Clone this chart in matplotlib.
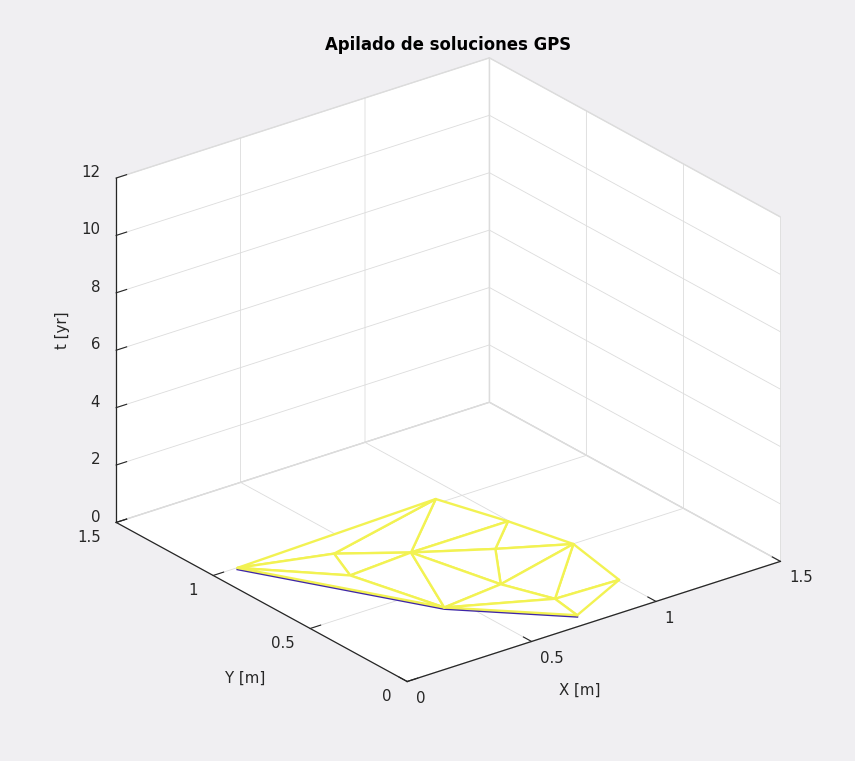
import numpy as np
import matplotlib.pyplot as plt

# ---------------- SETTINGS ----------------
BG = '#f0eff2'
GRID = '#dcdcdc'
AXC = '#262626'
YELLOW = '#f2f252'
BLUE = '#3e26a8'
FS = 10.8

plt.rcParams['font.family'] = 'DejaVu Sans'
plt.rcParams['font.size'] = FS
plt.rcParams['grid.color'] = GRID
plt.rcParams['grid.linewidth'] = 0.6
plt.rcParams['axes.edgecolor'] = AXC
plt.rcParams['axes.linewidth'] = 0.9

# ---------------- DATA ----------------
# station positions (m)
px = [0.09, 0.91, 0.40, 0.34, 0.60, 0.43, 0.99, 0.83, 1.05, 0.68, 0.75, 1.00, 0.73]
py = [0.99, 1.02, 0.89, 0.73, 0.75, 0.36, 0.75, 0.61, 0.49, 0.39, 0.20, 0.19, 0.06]
pt = [0.05] * len(px)  # epoch of the stacked solution (yr)

tri = [[0, 1, 2], [0, 2, 3], [0, 3, 5], [2, 1, 4], [2, 4, 3], [3, 4, 5],
       [4, 1, 6], [4, 6, 7], [4, 7, 9], [4, 9, 5], [7, 6, 8], [7, 8, 9],
       [9, 8, 10], [8, 11, 10], [10, 11, 12], [9, 10, 5], [5, 10, 12]]

# lower border of the network
border = [0, 5, 12]
border_t = [0.0, 0.0, 0.0]

xyticks = [0, 0.5, 1, 1.5]
xyticklabels = ['0', '0.5', '1', '1.5']
zticks = [0, 2, 4, 6, 8, 10, 12]
# ------------------------------------------

fig = plt.figure(figsize=(8.55, 7.61), dpi=100, facecolor=BG)
ax = fig.add_axes([0.021, 0.0094, 0.983, 0.983], projection='3d')
ax.set_facecolor(BG)
ax.set_proj_type('ortho')
ax.view_init(elev=24.8, azim=-127.5)
ax.set_box_aspect((1.24, 1.26, 1))
ax.computed_zorder = False

ax.plot([px[i] for i in border], [py[i] for i in border], border_t,
        color=BLUE, lw=1.5, zorder=2)
ax.plot_trisurf(px, py, pt, triangles=tri, color='white', edgecolor=YELLOW,
                linewidth=1.7, shade=False, antialiased=True, zorder=3)

ax.set_xlim(0, 1.5)
ax.set_ylim(0, 1.5)
ax.set_zlim(0, 12)
ax.set_xticks(xyticks, xyticklabels)
ax.set_yticks(xyticks, xyticklabels)
ax.set_zticks(zticks)

for axis in (ax.xaxis, ax.yaxis, ax.zaxis):
    axis.set_pane_color((1, 1, 1, 1))
    axis.pane.set_edgecolor(GRID)
    axis._axinfo['tick']['inward_factor'] = 0.0
    axis._axinfo['tick']['outward_factor'] = 0.35
    axis._axinfo['axisline']['color'] = AXC

ax.xaxis.set_tick_params(color=AXC, labelcolor=AXC, pad=0.4)
ax.yaxis.set_tick_params(color=AXC, labelcolor=AXC, pad=3.7)
ax.zaxis.set_tick_params(color=AXC, labelcolor=AXC, pad=-1.3)
for lab in ax.xaxis.get_ticklabels():
    lab.set_ha('left')
    lab.set_va('center_baseline')
for lab in ax.yaxis.get_ticklabels():
    lab.set_ha('right')
    lab.set_va('baseline')
for lab in ax.zaxis.get_ticklabels():
    lab.set_ha('right')
    lab.set_va('baseline')

# MATLAB-style horizontal axis labels
fig.text(580 / 855, 1 - 690 / 761, 'X [m]', ha='center', va='center', color=AXC)
fig.text(245 / 855, 1 - 678 / 761, 'Y [m]', ha='center', va='center', color=AXC)
fig.text(62 / 855, 1 - 330 / 761, 't [yr]', ha='center', va='center',
         rotation=90, color=AXC)
fig.text(448 / 855, 1 - 45 / 761, 'Apilado de soluciones GPS',
         ha='center', va='center', fontweight='bold', fontsize=FS * 1.1,
         color='black')

plt.savefig('out.png', dpi=100, facecolor=BG)
